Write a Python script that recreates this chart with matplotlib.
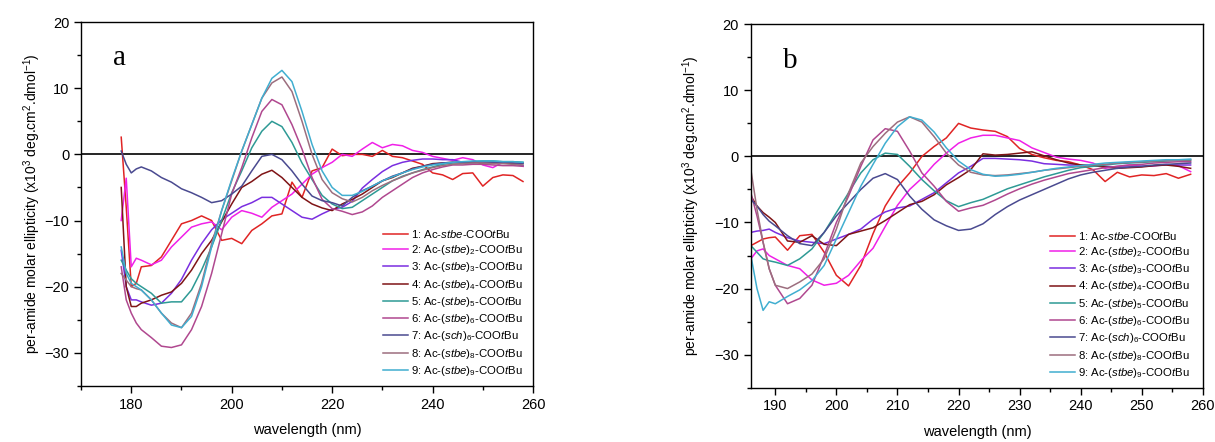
import matplotlib
matplotlib.use("Agg")
import matplotlib.pyplot as plt

plt.rcParams['font.family'] = ['Liberation Sans', 'DejaVu Sans']
plt.rcParams['mathtext.fontset'] = 'custom'
plt.rcParams['mathtext.rm'] = 'Liberation Sans'
plt.rcParams['mathtext.it'] = 'Liberation Sans:italic'

# wavelength grids (nm)
wl_a = [178, 179, 180, 181] + list(range(182, 259, 2))
wl_b = [186, 187, 188, 189] + list(range(190, 259, 2))

# panel a, per-amide molar ellipticity (x10^3)
a1 = [2.6, -8, -20, -19.5, -17, -16.8, -15.5, -13, -10.5, -10, -9.3, -10, -13, -12.7, -13.5, -11.5,
      -10.5, -9.3, -9, -4.2, -6.5, -2.5, -2, 0.8, -0.2, 0, 0, -0.3, 0.6, -0.3, -0.5, -1.0, -1.5,
      -2.8, -3.1, -3.8, -2.9, -2.8, -4.8, -3.5, -3.1, -3.2, -4.1]
a2 = [-10, -3.6, -17, -15.7, -16, -16.7, -16, -14, -12.5, -11, -10.5, -10.2, -11.4, -9.5, -8.5, -8.9,
      -9.5, -8, -7, -6, -4.5, -3, -2, -1.2, 0, -0.3, 0.8, 1.8, 1.0, 1.5, 1.3, 0.6, 0.3, -0.3, -0.6,
      -0.9, -0.5, -0.8, -1.6, -2.0, -1.2, -1.3, -1.8]
a3 = [-14.5, -20, -22, -22, -22.3, -22.8, -22.5, -21, -18.9, -16, -13.5, -11.4, -9.9, -8.9, -7.9,
      -7.3, -6.5, -6.5, -7.5, -8.5, -9.5, -9.8, -9.0, -8.3, -8, -7.1, -5.1, -3.8, -2.6, -1.7, -1.2,
      -0.9, -0.7, -0.7, -0.8, -0.8, -1.2, -1.3, -1.1, -1.3, -1.2, -1.4, -1.7]
a4 = [-5, -20, -23, -23, -22.5, -22, -21.3, -20.8, -19.5, -17.5, -15, -13, -10.2, -7.5, -5, -4.1,
      -3, -2.4, -3.5, -5, -6.5, -7.5, -8.1, -8.5, -7.5, -6.8, -6, -5, -4, -3.5, -2.8, -2.1, -1.8,
      -1.4, -1.3, -1.2, -1.3, -1.2, -1.3, -1.2, -1.3, -1.4, -1.3]
a5 = [-16, -17.5, -18.8, -19.5, -20, -21, -22.5, -22.3, -22.3, -20.5, -17.5, -14, -10, -5.8, -2.5,
      1, 3.5, 5, 4.2, 1.8, -1.3, -3.8, -6.2, -7.5, -8.2, -8, -7, -6, -5, -4, -3.3, -2.8, -2.3, -1.9,
      -1.5, -1.3, -1.2, -1.1, -1.0, -1.0, -1.1, -1.1, -1.2]
a6 = [-17, -22, -24, -25.5, -26.5, -27.7, -29, -29.2, -28.8, -26.5, -23, -18, -12, -6, -2, 2.5,
      6.5, 8.3, 7.5, 4.5, 0.8, -3.5, -6.8, -8.2, -8.6, -9.1, -8.7, -7.8, -6.5, -5.5, -4.5, -3.5,
      -2.8, -2.3, -1.9, -1.6, -1.6, -1.5, -1.5, -1.6, -1.7, -1.7, -1.8]
a7 = [0.5, -1.5, -2.8, -2.2, -1.9, -2.5, -3.5, -4.2, -5.2, -5.8, -6.5, -7.3, -7, -6, -4.8, -2.5,
      -0.3, 0, -0.8, -2.5, -4.5, -6.3, -7, -7.3, -7.8, -6.5, -5.5, -4.8, -4, -3.3, -2.8, -2.2, -1.8,
      -1.5, -1.3, -1.2, -1.2, -1.1, -1.2, -1.2, -1.2, -1.3, -1.4]
a8 = [-18, -19, -20, -20.3, -20.5, -22, -24, -25.5, -26.2, -24, -19.5, -13.5, -8.5, -4, 0.5, 4.5,
      8.5, 10.8, 11.7, 9.5, 5, 0, -3.8, -5.8, -6.7, -7.2, -6.5, -5.5, -4.7, -4, -3.4, -2.8, -2.4,
      -2.0, -1.7, -1.5, -1.4, -1.3, -1.3, -1.4, -1.4, -1.5, -1.6]
a9 = [-14, -18, -19.5, -20, -20.5, -22, -24, -25.8, -26.2, -24.5, -20, -14, -8.5, -3.8, 0.5, 4.5,
      8.5, 11.5, 12.7, 11, 6.5, 1.5, -2.5, -5, -6.2, -6.2, -5.6, -4.8, -4, -3.4, -2.8, -2.3, -1.9,
      -1.6, -1.4, -1.2, -1.1, -1.0, -1.0, -1.0, -1.1, -1.1, -1.2]

# panel b
b1 = [-13.5, -13, -12.5, -12.3, -12.2, -14.2, -12, -11.8, -14.5, -18, -19.6, -16.5, -11.7, -7.5,
      -4.6, -2.5, 0, 1.5, 2.8, 5, 4.3, 4, 3.8, 3.0, 1.2, 0.3, -0.2, -0.6, -0.8, -1.3, -2.0, -3.8,
      -2.4, -3.1, -2.8, -2.9, -2.6, -3.3, -2.7]
b2 = [-15.5, -14.3, -14, -15, -15.5, -16.5, -17, -18.7, -19.5, -19.2, -18, -15.8, -13.9, -10.6,
      -7.4, -5, -3.3, -1.2, 0.5, 2, 2.8, 3.2, 3.2, 2.8, 2.4, 1.3, 0.6, -0.1, -0.4, -0.6, -1.0, -1.8,
      -1.5, -1.3, -1.5, -1.4, -1.2, -1.4, -2.3]
b3 = [-11.5, -11.3, -11.2, -11, -11.5, -12.3, -12.8, -13, -13.2, -12.5, -11.8, -11, -9.5, -8.4,
      -7.8, -7.5, -6.5, -5.5, -4, -2.5, -1.5, -0.3, -0.3, -0.4, -0.5, -0.7, -1.1, -1.2, -1.3, -1.3,
      -1.4, -1.5, -1.6, -1.6, -1.5, -1.4, -1.3, -1.3, -1.3]
b4 = [-6, -7.5, -8.5, -9.2, -10, -12.8, -13, -12, -13.3, -13.5, -11.8, -11.3, -10.8, -9.7, -8.5,
      -7.3, -6.8, -5.8, -4.3, -3.2, -2, 0.4, 0.2, 0.3, 0.5, 0.7, 0.1, -0.5, -1.0, -1.3, -1.4, -1.6,
      -1.8, -1.7, -1.6, -1.4, -1.3, -1.5, -1.8]
b5 = [-13.5, -14.5, -15.5, -15.8, -16, -16.5, -15.5, -14, -11.5, -8.5, -5.5, -2.5, -0.5, 0.5, 0.3,
      -1.5, -3.5, -5.2, -6.7, -7.6, -7, -6.5, -5.7, -4.9, -4.3, -3.7, -3.1, -2.6, -2.1, -1.7, -1.5,
      -1.3, -1.1, -1.0, -0.9, -0.8, -0.7, -0.6, -0.6]
b6 = [-5.5, -9, -13, -17, -19.5, -22.3, -21.5, -19.5, -15, -10, -6, -1.5, 2.5, 4.2, 3.8, 0.8,
      -2.5, -4.5, -6.8, -8.3, -7.8, -7.4, -6.6, -5.7, -4.9, -4.2, -3.6, -3.1, -2.6, -2.3, -2.0,
      -1.7, -1.5, -1.3, -1.2, -1.0, -0.9, -0.8, -0.8]
b7 = [-6.5, -7.5, -8.8, -9.8, -10.5, -12, -13.2, -13.5, -11.5, -9, -7, -5, -3.3, -2.6, -3.5, -6,
      -8, -9.6, -10.5, -11.2, -11, -10.2, -8.8, -7.6, -6.6, -5.8, -5, -4.2, -3.4, -2.8, -2.4, -2.1,
      -1.8, -1.6, -1.5, -1.3, -1.2, -1.1, -1.0]
b8 = [-2, -8, -13, -17, -19.5, -20, -19, -17.8, -15.5, -11, -5.5, -1, 1.5, 3.5, 5.2, 6, 5.2, 3,
      0.5, -1.3, -2.4, -2.8, -2.9, -2.8, -2.6, -2.4, -2.1, -1.9, -1.7, -1.5, -1.3, -1.2, -1.0, -0.9,
      -0.8, -0.7, -0.6, -0.6, -0.5]
b9 = [-15, -20, -23.3, -22, -22.3, -21.2, -20.2, -18.8, -16.5, -12.5, -8.5, -4.5, -1.2, 2, 4.5, 6,
      5.5, 3.7, 1.3, -0.7, -2, -2.7, -3, -2.9, -2.7, -2.4, -2.1, -1.8, -1.6, -1.4, -1.2, -1.0, -0.9,
      -0.8, -0.7, -0.6, -0.5, -0.5, -0.4]

labels = [r"1: Ac-$\mathit{stbe}$-COO$\mathit{t}$Bu",
          r"2: Ac-($\mathit{stbe}$)$_2$-COO$\mathit{t}$Bu",
          r"3: Ac-($\mathit{stbe}$)$_3$-COO$\mathit{t}$Bu",
          r"4: Ac-($\mathit{stbe}$)$_4$-COO$\mathit{t}$Bu",
          r"5: Ac-($\mathit{stbe}$)$_5$-COO$\mathit{t}$Bu",
          r"6: Ac-($\mathit{stbe}$)$_6$-COO$\mathit{t}$Bu",
          r"7: Ac-($\mathit{sch}$)$_6$-COO$\mathit{t}$Bu",
          r"8: Ac-($\mathit{stbe}$)$_8$-COO$\mathit{t}$Bu",
          r"9: Ac-($\mathit{stbe}$)$_9$-COO$\mathit{t}$Bu"]
col = ['#e02424', '#f020e8', '#7a2ee0', '#7f1416', '#2e9a95', '#b0488f', '#4a4a90', '#9c6e7e', '#40aed0']

fig = plt.figure(figsize=(12.15, 4.42), dpi=100)
ax_a = fig.add_axes([0.0667, 0.127, 0.372, 0.823])
ax_b = fig.add_axes([0.618, 0.123, 0.372, 0.822])

panels = [(ax_a, wl_a, [a1, a2, a3, a4, a5, a6, a7, a8, a9], 'a', (170, 260), 20, 10, 1, 0.668),
          (ax_b, wl_b, [b1, b2, b3, b4, b5, b6, b7, b8, b9], 'b', (186, 260), 10, 5, 9, 0.661)]

for ax, wl, curves, letter, xlim, xmaj, xmin, ypad, legx in panels:
    for i, y in enumerate(curves):
        ax.plot(wl, y, color=col[i], lw=1.1, label=labels[i])
    ax.axhline(0, color='black', lw=1.2, zorder=1)
    ax.set_xlim(*xlim)
    ax.set_ylim(-35, 20)
    ax.set_xticks(range(xlim[0] + (-xlim[0]) % xmaj, 261, xmaj))
    ax.set_xticks(range(xlim[0] + (-xlim[0]) % xmin, 261, xmin), minor=True)
    ax.set_yticks([-30, -20, -10, 0, 10, 20])
    ax.set_yticks([-35, -25, -15, -5, 5, 15], minor=True)
    ax.tick_params(which='major', direction='out', length=5, width=1, labelsize=10.5)
    ax.tick_params(which='minor', direction='out', length=3, width=1)
    for s in ax.spines.values():
        s.set_linewidth(1.0)
    ax.set_xlabel('wavelength (nm)', fontsize=10.5, labelpad=8)
    ax.set_ylabel(r"per-amide molar ellipticity (x10$^3$ deg.cm$^2$.dmol$^{-1}$)", fontsize=10, labelpad=ypad)
    ax.text(0.07, 0.9, letter, transform=ax.transAxes, fontsize=21,
            family=['Liberation Serif', 'DejaVu Serif'], va='center', ha='left')
    ax.legend(loc='upper left', bbox_to_anchor=(legx, 0.435), frameon=False, fontsize=8.2,
              handlelength=2.2, handletextpad=0.3, labelspacing=0.29, borderpad=0, borderaxespad=0)

fig.savefig('out.png', dpi=100)
